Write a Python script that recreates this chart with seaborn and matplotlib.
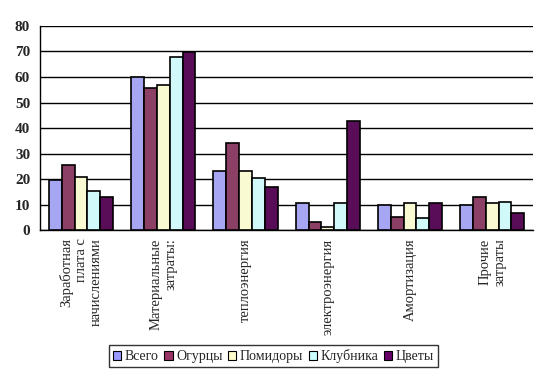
import matplotlib
matplotlib.use("Agg")
import matplotlib.pyplot as plt
import seaborn as sns
import pandas as pd
import numpy as np

sns.set_style("white")
plt.rcParams['font.family'] = ['Liberation Serif', 'DejaVu Serif']

# cost items (x categories)
items = ["Заработная\nплата с\nначислениями", "Материальные\nзатраты:", "теплоэнергия",
         "электроэнергия", "Амортизация", "Прочие\nзатраты"]
crops = ["Всего", "Огурцы", "Помидоры", "Клубника", "Цветы"]

vsego = [19.6, 60.1, 23.3, 10.5, 9.9, 9.7]
ogurcy = [25.4, 55.6, 34.0, 3.0, 5.2, 12.8]
pomidory = [20.9, 57.0, 23.3, 1.3, 10.5, 10.8]
klubnika = [15.4, 67.7, 20.5, 10.5, 4.8, 11.2]
cvety = [13.1, 69.7, 17.0, 42.6, 10.5, 6.9]

colors = ["#9999FF", "#993366", "#FFFFCC", "#CCFFFF", "#660066"]

rows = []
for crop, vals in zip(crops, [vsego, ogurcy, pomidory, klubnika, cvety]):
    for item, v in zip(items, vals):
        rows.append({"Статья": item, "Культура": crop, "Value": v})
df = pd.DataFrame(rows)

fig = plt.figure(figsize=(5.47, 3.76), dpi=100)
ax = fig.add_axes([0.073, 0.388, 0.902, 0.543])

sns.barplot(data=df, x="Статья", y="Value", hue="Культура", palette=colors,
            width=0.78, gap=0, edgecolor="black", linewidth=1.2, ax=ax,
            errorbar=None, zorder=3)

ax.set_ylim(0, 80)
ax.set_yticks(np.arange(0, 81, 10))
ax.set_xlim(-0.5, len(items) - 0.5)
ax.yaxis.grid(True, color="black", linewidth=1)
ax.set_axisbelow(True)
ax.set_xlabel("")
ax.set_ylabel("")

for s in ["top", "right"]:
    ax.spines[s].set_visible(False)
for s in ["left", "bottom"]:
    ax.spines[s].set_color("black")
    ax.spines[s].set_linewidth(1)

ax.tick_params(axis="y", direction="out", length=4, width=1, color="black", pad=3)
for lab in ax.get_yticklabels():
    lab.set_fontweight("bold")
    lab.set_fontsize(11)

ax.set_xticks(np.arange(-0.5, len(items), 1), minor=True)
ax.tick_params(axis="x", which="minor", direction="out", length=5, width=1, color="black")
ax.tick_params(axis="x", which="major", length=0, pad=6)
ax.set_xticks(range(len(items)))
ax.set_xticklabels(items, rotation=90, fontsize=10.5, ha="center", va="top",
                   multialignment="right", linespacing=1.2)

ax.legend_.remove()
handles = [plt.Rectangle((0, 0), 1, 1, facecolor=c, edgecolor="black", linewidth=0.8)
           for c in colors]
leg = fig.legend(handles, crops, loc="center", bbox_to_anchor=(0.5, 0.053), ncol=5,
                 fontsize=10, frameon=True, fancybox=False, handlelength=0.6,
                 handleheight=0.6, handletextpad=0.25, columnspacing=0.4,
                 borderpad=0.3, borderaxespad=0)
leg.get_frame().set_edgecolor("black")
leg.get_frame().set_linewidth(1)

fig.savefig("out.png", dpi=100)
